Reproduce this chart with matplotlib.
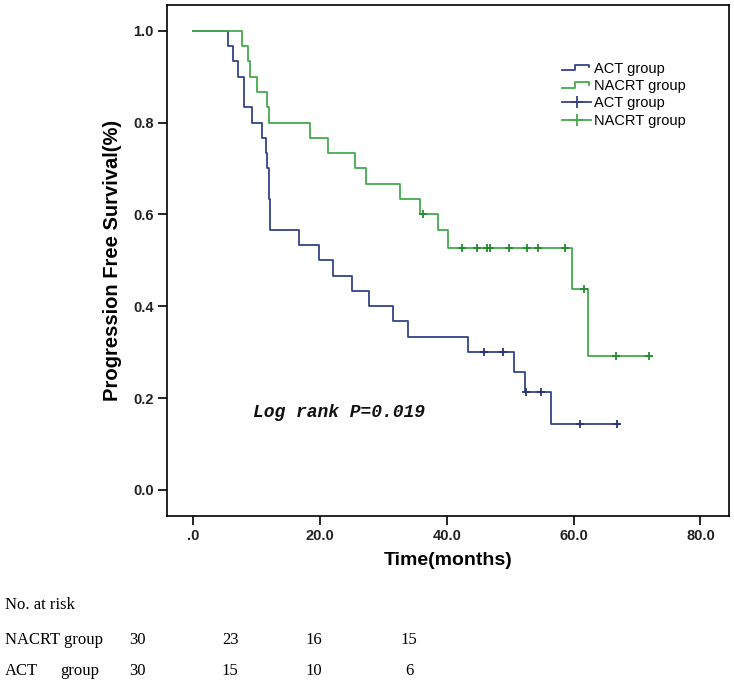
import numpy as np
import matplotlib
matplotlib.use("Agg")
import matplotlib.pyplot as plt
from matplotlib.lines import Line2D
from matplotlib.legend_handler import HandlerBase

# ---------------- data ----------------
# ACT group: step times (months) and survival after each step
act_times = [0, 5.5, 6.3, 7.1, 8.0, 9.2, 10.8, 11.5, 11.7, 11.9, 12.0, 12.1,
             16.6, 19.8, 22.1, 25.1, 27.7, 31.5, 33.8, 43.3, 50.6, 52.3, 56.4]
act_surv = [1.000, 0.967, 0.933, 0.900, 0.833, 0.800, 0.767, 0.733, 0.700, 0.667,
            0.633, 0.567, 0.533, 0.500, 0.467, 0.433, 0.400, 0.367, 0.333, 0.300,
            0.257, 0.214, 0.143]
act_end = 67.2
act_censor = [45.9, 48.8, 52.5, 54.9, 61.0, 66.9]

# NACRT group
nacrt_times = [0, 7.6, 8.7, 8.9, 10.1, 11.7, 12.0, 18.4, 21.3, 25.5, 27.3, 32.6,
               35.7, 38.6, 40.1, 59.8, 62.2]
nacrt_surv = [1.000, 0.967, 0.933, 0.900, 0.867, 0.833, 0.800, 0.767, 0.733, 0.700,
              0.667, 0.633, 0.600, 0.565, 0.527, 0.437, 0.292]
nacrt_end = 72.0
nacrt_censor = [36.3, 42.4, 44.8, 46.3, 46.8, 49.8, 52.7, 54.3, 58.6, 61.6, 66.7, 71.9]

x_ticks = [0, 20, 40, 60, 80]
x_ticklabels = [".0", "20.0", "40.0", "60.0", "80.0"]
y_ticks = [0.0, 0.2, 0.4, 0.6, 0.8, 1.0]
y_ticklabels = ["0.0", "0.2", "0.4", "0.6", "0.8", "1.0"]

risk_header = "No. at risk"
risk_nacrt = ["30", "23", "16", "15"]
risk_act = ["30", "15", "10", "6"]

# ---------------- styling ----------------
BLUE = "#34428a"
GREEN = "#45aa4e"
GREEN_DARK = "#238a30"
BLUE_DARK = "#28337a"

W, H = 734, 688
fig = plt.figure(figsize=(W / 100, H / 100), dpi=100)
ax_l, ax_r, ax_t, ax_b = 166.7, 729.0, 5.0, 515.7
ax = fig.add_axes([ax_l / W, 1 - ax_b / H, (ax_r - ax_l) / W, (ax_b - ax_t) / H])


def step_value(times, surv, t):
    idx = np.searchsorted(np.asarray(times), t, side="right") - 1
    return np.asarray(surv)[idx]


def draw_curve(times, surv, end, censor, color, mcolor):
    xs = list(times) + [end]
    ys = list(surv) + [surv[-1]]
    ax.step(xs, ys, where="post", color=color, lw=1.3, zorder=3)
    cy = step_value(times, surv, np.asarray(censor))
    ax.plot(censor, cy, linestyle="none", marker="+", markersize=5.5,
            markeredgewidth=1.3, color=mcolor, zorder=4)


draw_curve(act_times, act_surv, act_end, act_censor, BLUE, BLUE_DARK)
draw_curve(nacrt_times, nacrt_surv, nacrt_end, nacrt_censor, GREEN, GREEN_DARK)

ax.set_xlim(-4.2, 84.5)
ax.set_ylim(-0.056, 1.056)
ax.set_xticks(x_ticks)
ax.set_xticklabels(x_ticklabels)
ax.set_yticks(y_ticks)
ax.set_yticklabels(y_ticklabels)

for s in ax.spines.values():
    s.set_linewidth(1.2)
    s.set_color("black")
ax.tick_params(direction="out", length=6.5, width=1.2, pad=3,
               top=False, right=False)
for lab in ax.get_xticklabels() + ax.get_yticklabels():
    lab.set_fontfamily("Liberation Sans")
    lab.set_fontweight("bold")
    lab.set_fontsize(10.5)
    lab.set_color("#222222")

ax.set_xlabel("Time(months)", fontfamily="Liberation Sans", fontweight="bold",
              fontsize=14)
ax.xaxis.set_label_coords(0.5, -0.072)
ax.set_ylabel("Progression Free Survival(%)", fontfamily="Liberation Sans",
              fontweight="bold", fontsize=14.5)
ax.yaxis.set_label_coords(-0.08, 0.5)

ax.text(9.4, 0.168, "Log rank P=0.019", fontfamily="Liberation Mono",
        fontweight="bold", fontstyle="italic", fontsize=13, va="center",
        ha="left", color="#111111")


# ---------------- legend ----------------
class StepHandler(HandlerBase):
    def create_artists(self, legend, orig_handle, xdescent, ydescent,
                       width, height, fontsize, trans):
        x0 = -xdescent
        y0 = -ydescent
        xs = [x0, x0 + 0.45 * width, x0 + 0.45 * width, x0 + 0.92 * width,
              x0 + 0.92 * width]
        ys = [y0 + 0.25 * height, y0 + 0.25 * height, y0 + 0.8 * height,
              y0 + 0.8 * height, y0 + 0.55 * height]
        ln = Line2D(xs, ys, color=orig_handle.get_color(), lw=1.3,
                    transform=trans)
        return [ln]


h1 = Line2D([], [], color=BLUE)
h2 = Line2D([], [], color=GREEN)
h3 = Line2D([], [], color=BLUE, lw=1.3, marker="+", markersize=9,
            markeredgewidth=1.3)
h4 = Line2D([], [], color=GREEN, lw=1.3, marker="+", markersize=9,
            markeredgewidth=1.3)
leg = fig.legend([h1, h2, h3, h4],
                 ["ACT group", "NACRT group", "ACT group", "NACRT group"],
                 handler_map={h1: StepHandler(), h2: StepHandler()},
                 loc="upper left", bbox_to_anchor=(562 / W, 1 - 62 / H),
                 bbox_transform=fig.transFigure, frameon=False,
                 borderpad=0, borderaxespad=0, handlelength=2.0,
                 handletextpad=0.2, labelspacing=0.22,
                 prop={"family": "Liberation Sans", "size": 10.5})

# ---------------- number at risk table ----------------
tprops = dict(fontfamily="Liberation Serif", fontsize=12, color="black",
              va="center")
fig.text(5 / W, 1 - 605 / H, risk_header, ha="left", **tprops)
fig.text(5 / W, 1 - 640 / H, "NACRT group", ha="left", **tprops)
fig.text(5 / W, 1 - 671 / H, "ACT", ha="left", **tprops)
fig.text(60 / W, 1 - 671 / H, "group", ha="left", **tprops)
col_x = [137, 230, 314, 409]
for cx, a, b in zip(col_x, risk_nacrt, risk_act):
    fig.text(cx / W, 1 - 640 / H, a, ha="center", **tprops)
    fig.text(cx / W, 1 - 671 / H, b, ha="center", **tprops)

fig.savefig("out.png", dpi=100, facecolor="white")
